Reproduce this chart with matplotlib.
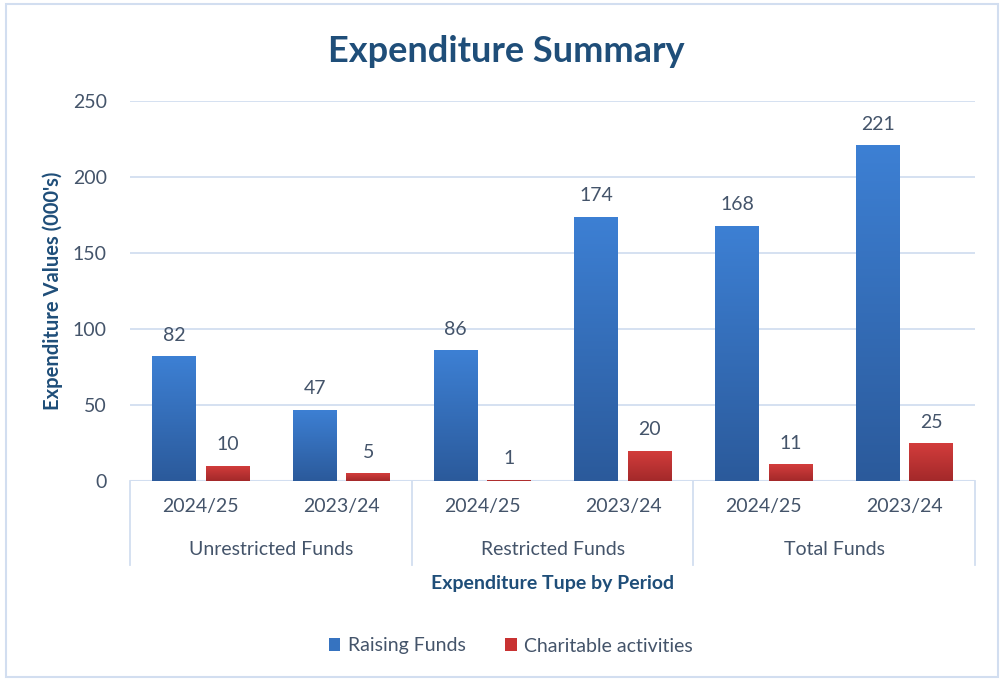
import matplotlib.pyplot as plt
import numpy as np
from matplotlib.colors import LinearSegmentedColormap
from matplotlib.patches import Rectangle

periods = ["2024/25", "2023/24", "2024/25", "2023/24", "2024/25", "2023/24"]
groups = ["Unrestricted Funds", "Restricted Funds", "Total Funds"]
raising = [82, 47, 86, 174, 168, 221]
charitable = [10, 5, 1, 20, 11, 25]

plt.rcParams['font.family'] = ['Lato', 'DejaVu Sans']
txt = '#44546a'
dark = '#1f4e79'
grid_c = '#d2def0'

fig = plt.figure(figsize=(10.02, 6.8), dpi=100)
ax = fig.add_axes([0.130, 0.2926, 0.843, 0.5589])

x = np.arange(len(periods))
w = 0.31
off = 0.19

blue_cm = LinearSegmentedColormap.from_list('b', ['#2b5a9b', '#3d80d4'])
red_cm = LinearSegmentedColormap.from_list('r', ['#a3292a', '#d43d3c'])
grad = np.linspace(0, 1, 256).reshape(-1, 1)

b1 = ax.bar(x - off, raising, w, color='#3673c0', label='Raising Funds', zorder=3)
b2 = ax.bar(x + off, charitable, w, color='#c83232', label='Charitable activities', zorder=3)

for bars, cm in ((b1, blue_cm), (b2, red_cm)):
    for bar in bars:
        x0, y0 = bar.get_x(), bar.get_y()
        bw, bh = bar.get_width(), bar.get_height()
        im = ax.imshow(grad, extent=[x0, x0 + bw, y0, y0 + bh], cmap=cm,
                       aspect='auto', origin='lower', zorder=4)
        im.set_clip_path(bar)

for bars, vals in ((b1, raising), (b2, charitable)):
    for bar, v in zip(bars, vals):
        ax.annotate(str(v), (bar.get_x() + bar.get_width() / 2, bar.get_height()),
                    xytext=(0, 9), textcoords='offset points', ha='center',
                    va='bottom', fontsize=14, color=txt)

ax.set_xlim(-0.5, 5.5)
ax.set_ylim(0, 250)
ax.set_yticks([0, 50, 100, 150, 200, 250])
ax.tick_params(axis='y', length=0, labelsize=14, labelcolor=txt, pad=17)
ax.set_xticks([])
ax.grid(axis='y', color=grid_c, linewidth=1.3, zorder=0)
for s in ax.spines.values():
    s.set_visible(False)
ax.axhline(0, color=grid_c, linewidth=1.5, zorder=2)

trans = ax.get_xaxis_transform()
for xs in [-0.5, 1.5, 3.5, 5.5]:
    ax.plot([xs, xs], [0, -0.221], transform=trans, color=grid_c,
            linewidth=1.3, clip_on=False)
for i, p in enumerate(periods):
    ax.text(i, -0.068, p, transform=trans, ha='center', va='center',
            fontsize=14, color=txt)
for i, g in enumerate(groups):
    ax.text(2 * i + 0.5, -0.18, g, transform=trans, ha='center', va='center',
            fontsize=14, color=txt)
ax.text(2.5, -0.27, "Expenditure Tupe by Period", transform=trans, ha='center',
        va='center', fontsize=14, fontweight='bold', color=dark)

ax.set_ylabel("Expenditure Values (000's)", fontsize=14.5, fontweight='bold',
              color=dark, va='center')
ax.yaxis.set_label_coords(-0.092, 0.5)

fig.text(0.505, 1 - 51 / 680, "Expenditure Summary", ha='center', va='center',
         fontsize=26, fontweight='bold', color=dark)

fig.legend(handles=[b1, b2], loc='center', bbox_to_anchor=(0.51, 1 - 646 / 680),
           ncol=2, frameon=False, fontsize=14, labelcolor=txt,
           handlelength=0.6, handleheight=0.6, columnspacing=2.0, handletextpad=0.4)

fig.patches.append(Rectangle((0.006, 0.004), 0.99, 0.99, transform=fig.transFigure,
                             fill=False, edgecolor='#d2def0', linewidth=1.5))

plt.savefig("out.png", dpi=100)
